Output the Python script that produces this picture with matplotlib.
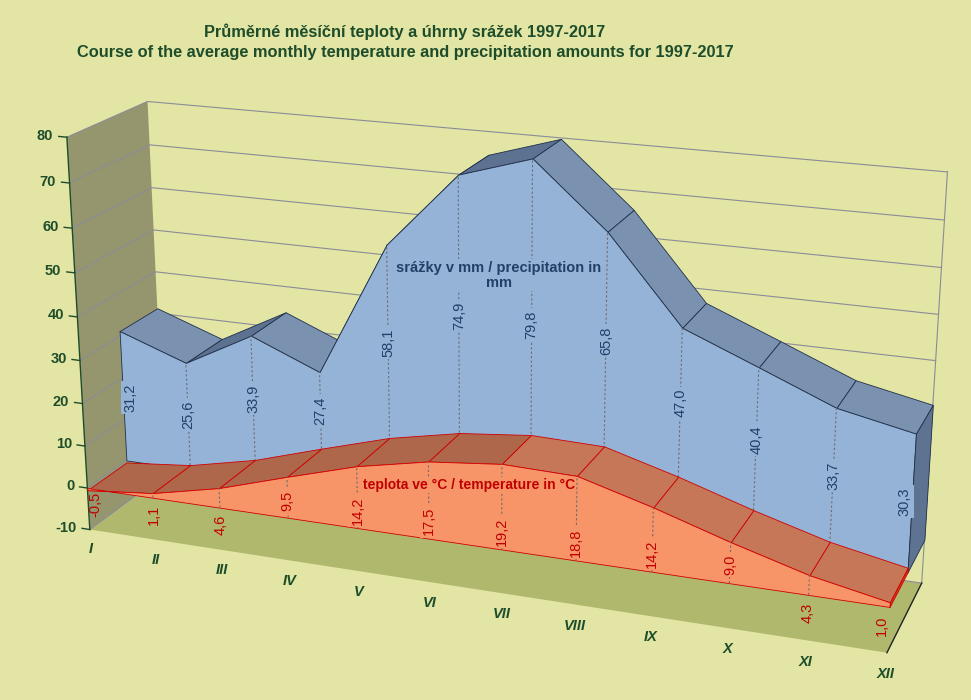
import numpy as np
import matplotlib
matplotlib.use("Agg")
import matplotlib.pyplot as plt
from mpl_toolkits.mplot3d.art3d import Poly3DCollection

# data
months = ["I", "II", "III", "IV", "V", "VI", "VII", "VIII", "IX", "X", "XI", "XII"]
precip = [31.2, 25.6, 33.9, 27.4, 58.1, 74.9, 79.8, 65.8, 47.0, 40.4, 33.7, 30.3]
temp = [-0.5, 1.1, 4.6, 9.5, 14.2, 17.5, 19.2, 18.8, 14.2, 9.0, 4.3, 1.0]
value_ticks = [-10, 0, 10, 20, 30, 40, 50, 60, 70, 80]

title_cz = "Průměrné měsíční teploty a úhrny srážek 1997-2017"
title_en = "Course of the average monthly temperature and precipitation amounts for 1997-2017"
name_precip = "srážky v mm / precipitation in\nmm"
name_temp = "teplota ve °C / temperature in °C"

W, H = 971, 700
BG = "#E3E5A4"
WALL = "#96966E"
FLOOR = "#B0B86E"
GRID = "#8A8C98"
GREEN = "#1E4D2B"
NAVY = "#243F66"
RED = "#C00000"
BLUE = "#95B3D7"
ORANGE = "#F79569"

plt.rcParams["font.family"] = ["Liberation Sans", "DejaVu Sans"]

fig = plt.figure(figsize=(W / 100, H / 100), dpi=100, facecolor=BG)
# camera fitted to the reference (perspective, seen from front right)
ax = fig.add_axes([14.4 / W, -141.2 / H, 936 / W, 936 / H], projection="3d")
ax.computed_zorder = False
ax.view_init(18.977, -69.622, -0.016)
ax.set_proj_type("persp", focal_length=0.4806)
ax.set_box_aspect((1, 0.1997, 0.4997))
ax.set_axis_off()
ax.patch.set_alpha(0)

x0, x1 = 0, len(months) - 1
z0, z1 = value_ticks[0], value_ticks[-1]
name_z = 54


def set_lims():
    ax.set_xlim(x0, x1)
    ax.set_ylim(0, 2)
    ax.set_zlim(z0, z1)


set_lims()

zo = [1]


def nz():
    zo[0] += 1
    return zo[0]


def poly(verts, fc, ec="none", lw=0.6):
    ax.add_collection3d(Poly3DCollection([verts], facecolor=fc, edgecolor=ec,
                                         linewidth=lw, zorder=nz()))


def text_at(x, y, z, s, **kw):
    # text anchored at a projected 3D point, drawn flat on the screen
    v = ax.get_proj() @ np.array([x, y, z, 1.0])
    ax.text2D(v[0] / v[3], v[1] / v[3], s, transform=ax.transData,
              zorder=nz(), **kw)


# walls and floor
poly([(x0, 2, z0), (x1, 2, z0), (x1, 2, z1), (x0, 2, z1)], BG)
poly([(x0, 0, z0), (x0, 2, z0), (x0, 2, z1), (x0, 0, z1)], WALL)
poly([(x0, 0, z0), (x1, 0, z0), (x1, 2, z0), (x0, 2, z0)], FLOOR)
for t in value_ticks:
    ax.plot([x0, x0, x1], [0, 2, 2], [t, t, t], color=GRID, lw=0.8, zorder=nz())
ax.plot([x1, x1], [2, 2], [z0, z1], color=GRID, lw=0.8, zorder=nz())
ax.plot([x1, x1], [0, 2], [z0, z0], color="#222222", lw=1.0, zorder=nz())
ax.plot([x0, x0], [0, 0], [z0, z1], color=GREEN, lw=1.0, zorder=nz())
for t in value_ticks:
    ax.plot([x0 - 0.12, x0], [0, 0], [t, t], color=GREEN, lw=1.0, zorder=nz())
    text_at(x0 - 0.2, 0, t, str(t), ha="right", va="center", fontsize=10.5,
            fontweight="bold", color=GREEN)


def slab(vals, ya, yb, face, up, down, cap, edge, label_col, label_z, boxed):
    xs = np.arange(len(vals))
    for i in range(len(vals) - 1):
        quad = [(xs[i], ya, vals[i]), (xs[i + 1], ya, vals[i + 1]),
                (xs[i + 1], yb, vals[i + 1]), (xs[i], yb, vals[i])]
        poly(quad, up if vals[i + 1] > vals[i] else down, edge)
    front = [(xs[0], ya, 0)] + [(x, ya, v) for x, v in zip(xs, vals)] + [(xs[-1], ya, 0)]
    poly(front, face, edge)
    poly([(xs[-1], ya, 0), (xs[-1], ya, vals[-1]), (xs[-1], yb, vals[-1]),
          (xs[-1], yb, 0)], cap, edge)
    for x, v in zip(xs[1:-1], vals[1:-1]):
        ax.plot([x, x], [ya, ya], [0, v], color="#6E6E6E", lw=0.8,
                ls=(0, (2, 2)), zorder=nz())
    for i, (x, v) in enumerate(zip(xs, vals)):
        ha = "left" if i == 0 else ("right" if i == len(vals) - 1 else "center")
        box = dict(boxstyle="square,pad=0.15", fc=face, ec="none") if boxed(v) else None
        text_at(x, ya, label_z(i), f"{v:.1f}".replace(".", ","), rotation=90,
                ha=ha, va="center", fontsize=10.5, color=label_col, bbox=box)


# precipitation labels sit mid-way on the visible blue face, kept under the name
slab(precip, 1, 2, BLUE, "#5D7190", "#7A92B0", "#5E7391", "#1F2F4A",
     NAVY, lambda i: min((precip[i] + temp[i]) / 2, name_z - 10), lambda v: True)
text_at(5.55, 1, name_z, name_precip, ha="center", va="center", fontsize=10.5,
        fontweight="bold", color=NAVY, linespacing=1.1,
        bbox=dict(boxstyle="square,pad=0.1", fc=BLUE, ec="none"))
slab(temp, 0, 1, ORANGE, "#AE674B", "#C67757", "#D03A20", "#D00000",
     RED, lambda i: 4 if temp[i] > 8 else -4, lambda v: v > 8)
text_at(5.55, 0, 13.5, name_temp, ha="center", va="center", fontsize=10,
        fontweight="bold", color=RED,
        bbox=dict(boxstyle="square,pad=0.1", fc=ORANGE, ec="none"))

for i, m in enumerate(months):
    text_at(i, 0, z0 - 4.8, m, ha="center", va="center", fontsize=10.5,
            fontweight="bold", fontstyle="italic", color=GREEN)

set_lims()

fig.text(405 / W, 1 - 32 / H, title_cz, ha="center", va="center", fontsize=11.8,
         fontweight="bold", color=GREEN)
fig.text(405 / W, 1 - 52 / H, title_en, ha="center", va="center", fontsize=11.8,
         fontweight="bold", color=GREEN)

fig.savefig("out.png", dpi=100, facecolor=BG)
